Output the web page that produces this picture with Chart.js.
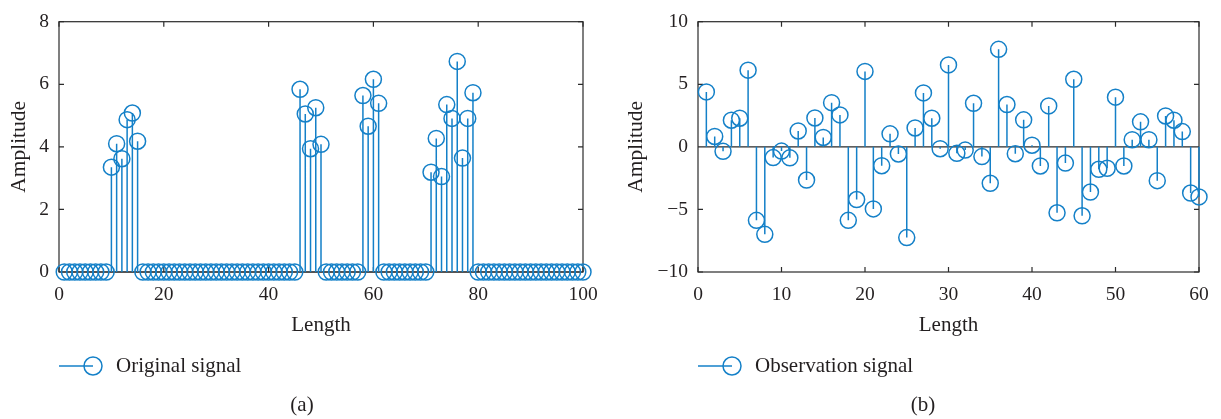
<!DOCTYPE html>
<html>
<head>
<meta charset="utf-8">
<script src="https://cdn.jsdelivr.net/npm/chart.js@4.4.1/dist/chart.umd.min.js"></script>
<style>
  html, body { margin: 0; padding: 0; background: #fff; overflow: hidden; }
  .panel { position: absolute; top: 0; }
</style>
</head>
<body>
<canvas id="origChart" class="panel" style="left:0" width="610" height="419"></canvas>
<canvas id="obsChart" class="panel" style="left:610px" width="611" height="419"></canvas>
<script>
// sample index 1..N for each signal
const origIndex = Array.from({ length: 100 }, (_, i) => i + 1);
const obsIndex = Array.from({ length: 60 }, (_, i) => i + 1);

// sparse original signal
const origValues = [
  0, 0, 0, 0, 0, 0, 0, 0, 0,
  3.35, 4.10, 3.62, 4.87, 5.08, 4.18,
  0, 0, 0, 0, 0, 0, 0, 0, 0, 0, 0, 0, 0, 0, 0,
  0, 0, 0, 0, 0, 0, 0, 0, 0, 0, 0, 0, 0, 0, 0,
  5.84, 5.05, 3.94, 5.25, 4.08,
  0, 0, 0, 0, 0, 0, 0,
  5.64, 4.66, 6.16, 5.39,
  0, 0, 0, 0, 0, 0, 0, 0, 0,
  3.19, 4.27, 3.05, 5.35, 4.91, 6.73, 3.64, 4.91, 5.73,
  0, 0, 0, 0, 0, 0, 0, 0, 0, 0, 0, 0, 0, 0, 0, 0, 0, 0, 0, 0, 0
];

// measured observation
const obsValues = [
  4.39, 0.83, -0.36, 2.13, 2.29, 6.13, -5.87, -6.99, -0.86, -0.34,
  -0.88, 1.27, -2.65, 2.31, 0.75, 3.53, 2.55, -5.87, -4.21, 6.03,
  -4.96, -1.51, 1.04, -0.57, -7.25, 1.51, 4.31, 2.29, -0.15, 6.55,
  -0.52, -0.26, 3.48, -0.78, -2.91, 7.79, 3.38, -0.55, 2.16, 0.13,
  -1.53, 3.27, -5.27, -1.30, 5.40, -5.51, -3.61, -1.79, -1.71, 3.97,
  -1.53, 0.57, 2.00, 0.57, -2.70, 2.47, 2.13, 1.22, -3.69, -4.00
];

const STEM = 'rgb(20,128,200)';
const INK = '#231f20';
const AXIS = '#2b2b2b';

Chart.defaults.font.family = '"Liberation Serif", "DejaVu Serif", serif';
Chart.defaults.color = INK;

const minus = v => String(v).replace('-', '\u2212');

// box, inward ticks, zero baseline and stems under the markers;
// legend key and panel caption on top
const stemPlot = {
  id: 'stemPlot',
  beforeDatasetsDraw(chart) {
    const { ctx, chartArea: a, scales: { x, y } } = chart;
    ctx.save();
    ctx.strokeStyle = AXIS;
    ctx.lineWidth = 1.2;
    ctx.strokeRect(a.left, a.top, a.right - a.left, a.bottom - a.top);
    ctx.beginPath();
    x.ticks.forEach(t => {
      const px = x.getPixelForValue(t.value);
      ctx.moveTo(px, a.bottom); ctx.lineTo(px, a.bottom - 5);
      ctx.moveTo(px, a.top); ctx.lineTo(px, a.top + 5);
    });
    y.ticks.forEach(t => {
      const py = y.getPixelForValue(t.value);
      ctx.moveTo(a.left, py); ctx.lineTo(a.left + 5, py);
      ctx.moveTo(a.right, py); ctx.lineTo(a.right - 5, py);
    });
    const y0 = y.getPixelForValue(0);
    ctx.moveTo(a.left, y0); ctx.lineTo(a.right, y0);
    ctx.stroke();

    chart.data.datasets.forEach((ds, i) => {
      const meta = chart.getDatasetMeta(i);
      ctx.strokeStyle = ds.pointBorderColor;
      ctx.lineWidth = 1.5;
      ctx.beginPath();
      meta.data.forEach(pt => {
        ctx.moveTo(pt.x, y0);
        ctx.lineTo(pt.x, pt.y);
      });
      ctx.stroke();
    });
    ctx.restore();
  },
  afterDraw(chart, args, opts) {
    const { ctx, chartArea: a } = chart;
    const ds = chart.data.datasets[0];
    ctx.save();
    // legend key: stem segment ending in a circle
    const ky = opts.keyY;
    ctx.strokeStyle = ds.pointBorderColor;
    ctx.lineWidth = 1.5;
    ctx.beginPath();
    ctx.moveTo(a.left, ky);
    ctx.lineTo(a.left + 34, ky);
    ctx.stroke();
    ctx.beginPath();
    ctx.arc(a.left + 34, ky, 9, 0, Math.PI * 2);
    ctx.stroke();
    ctx.fillStyle = INK;
    ctx.font = '21px "Liberation Serif", serif';
    ctx.textBaseline = 'middle';
    ctx.textAlign = 'left';
    ctx.fillText(ds.label, a.left + 57, ky);
    ctx.textAlign = 'center';
    ctx.fillText(opts.caption, opts.captionX, opts.captionY);
    ctx.restore();
  }
};

function stemChart(id, xs, ys, label, xMax, xStep, yMin, yMax, yStep, yAxisWidth, yTitlePad, caption, captionX, rightPad) {
  return new Chart(document.getElementById(id), {
    type: 'scatter',
    data: {
      datasets: [{
        label: label,
        data: xs.map((v, i) => ({ x: v, y: ys[i] })),
        pointStyle: 'circle',
        pointRadius: 8,
        pointBorderWidth: 1.5,
        pointBorderColor: STEM,
        pointBackgroundColor: 'rgba(0,0,0,0)',
        showLine: false,
        clip: false
      }]
    },
    options: {
      responsive: false,
      animation: false,
      events: [],
      layout: { padding: { top: 15, right: rightPad, bottom: 0, left: 0 } },
      plugins: {
        legend: { display: false },
        tooltip: { enabled: false },
        stemPlot: { keyY: 366, caption: caption, captionX: captionX, captionY: 405 }
      },
      scales: {
        x: {
          type: 'linear',
          min: 0, max: xMax,
          grid: { display: false, drawTicks: false },
          border: { display: false },
          ticks: { stepSize: xStep, padding: 11, font: { size: 19.5 }, color: INK, maxRotation: 0 },
          title: { display: true, text: 'Length', font: { size: 21 }, color: INK, padding: { top: 0, bottom: 81 } },
          afterFit: s => { s.height = 147; }
        },
        y: {
          min: yMin, max: yMax,
          grid: { display: false, drawTicks: false },
          border: { display: false },
          ticks: { stepSize: yStep, padding: 10, font: { size: 19.5 }, color: INK, callback: minus },
          title: { display: true, text: 'Amplitude', font: { size: 21.5 }, color: INK, padding: { top: yTitlePad, bottom: 0 } },
          afterFit: s => { s.width = yAxisWidth; }
        }
      }
    },
    plugins: [stemPlot]
  });
}

stemChart('origChart', origIndex, origValues, 'Original signal', 100, 20, 0, 8, 2, 59, 6, '(a)', 302, 27);
stemChart('obsChart', obsIndex, obsValues, 'Observation signal', 60, 10, -10, 10, 5, 88, 13, '(b)', 313, 22);
</script>
</body>
</html>
